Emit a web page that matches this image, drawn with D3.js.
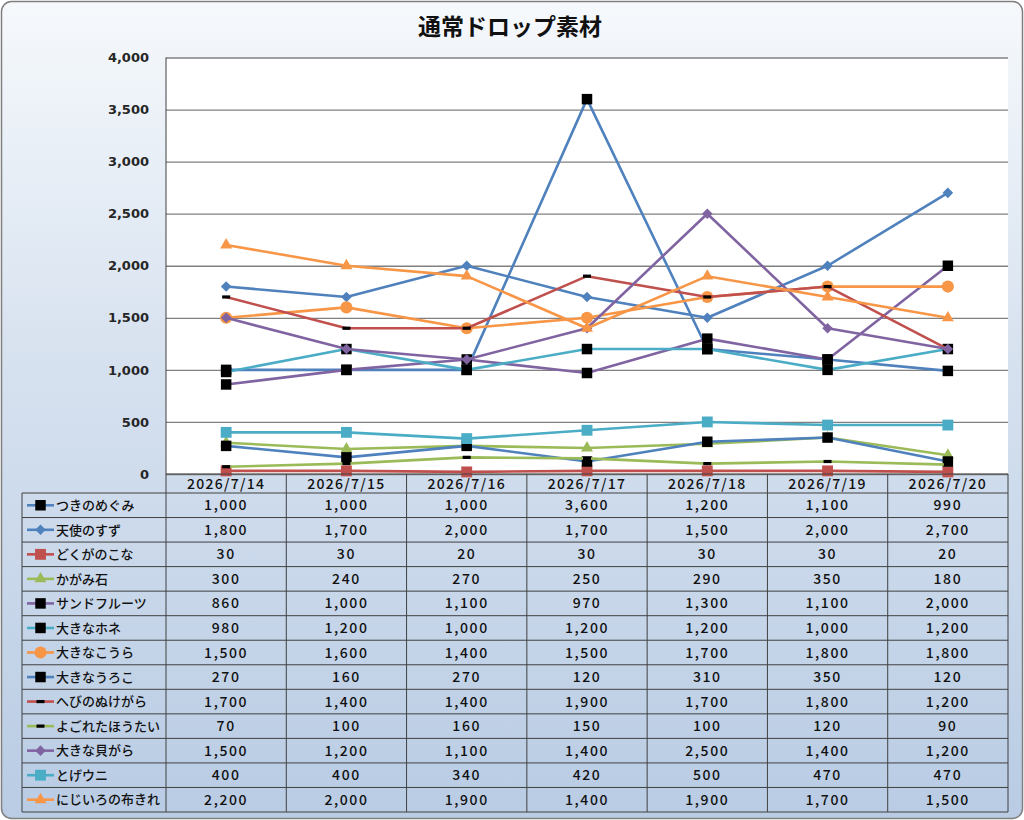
<!DOCTYPE html>
<html>
<head>
<meta charset="utf-8">
<script src="https://cdn.jsdelivr.net/npm/d3@7"></script>
<style>
  body { margin: 0; background: #ffffff; }
  svg text { font-family: "Noto Sans CJK JP", "Noto Sans", sans-serif; }
</style>
</head>
<body>
<div id="mainDiv"></div>
<script>
'use strict';

// ---- data ----
var dates = ['2026/7/14', '2026/7/15', '2026/7/16', '2026/7/17', '2026/7/18', '2026/7/19', '2026/7/20'];

var seriesNames = ['つきのめぐみ', '天使のすず', 'どくがのこな', 'かがみ石', 'サンドフルーツ', '大きなホネ',
                   '大きなこうら', '大きなうろこ', 'へびのぬけがら', 'よごれたほうたい', '大きな貝がら',
                   'とげウニ', 'にじいろの布きれ'];

var tsukiNoMegumi  = [1000, 1000, 1000, 3600, 1200, 1100, 990];
var tenshiNoSuzu   = [1800, 1700, 2000, 1700, 1500, 2000, 2700];
var dokugaNoKona   = [30, 30, 20, 30, 30, 30, 20];
var kagamiIshi     = [300, 240, 270, 250, 290, 350, 180];
var sandFruits     = [860, 1000, 1100, 970, 1300, 1100, 2000];
var ookinaHone     = [980, 1200, 1000, 1200, 1200, 1000, 1200];
var ookinaKoura    = [1500, 1600, 1400, 1500, 1700, 1800, 1800];
var ookinaUroko    = [270, 160, 270, 120, 310, 350, 120];
var hebiNoNukegara = [1700, 1400, 1400, 1900, 1700, 1800, 1200];
var yogoretaHoutai = [70, 100, 160, 150, 100, 120, 90];
var ookinaKaigara  = [1500, 1200, 1100, 1400, 2500, 1400, 1200];
var togeUni        = [400, 400, 340, 420, 500, 470, 470];
var nijiiroNuno    = [2200, 2000, 1900, 1400, 1900, 1700, 1500];

var yTicks = [0, 500, 1000, 1500, 2000, 2500, 3000, 3500, 4000];

var seriesValues = [tsukiNoMegumi, tenshiNoSuzu, dokugaNoKona, kagamiIshi, sandFruits, ookinaHone,
                    ookinaKoura, ookinaUroko, hebiNoNukegara, yogoretaHoutai, ookinaKaigara,
                    togeUni, nijiiroNuno];

// ---- styles ----
var blue = '#4f81bd', red = '#c0504d', green = '#9bbb59', purple = '#8064a2', cyan = '#4bacc6', orange = '#f79646';

var lineColors   = [blue, blue, red, green, purple, cyan, orange, blue, red, green, purple, cyan, orange];
var markerShapes = ['square', 'diamond', 'square', 'triangle', 'square', 'square', 'circle', 'square',
                    'dash', 'dash', 'diamond', 'square', 'triangle'];
var markerFills  = ['#000', blue, red, green, '#000', '#000', orange, '#000', '#000', '#000', purple, cyan, orange];

var chart = {};
chart.width = 1024;
chart.height = 820;
chart.plot = {left: 166, right: 1008, top: 57.5, bottom: 474};
chart.table = {left: 22, headerBottom: 493, bottom: 812};

chart.xScale = d3.scaleBand().domain(dates).range([chart.plot.left, chart.plot.right]);
chart.yScale = d3.scaleLinear().domain([0, 4000]).range([chart.plot.bottom, chart.plot.top]);
chart.rowScale = d3.scaleBand().domain(seriesNames).range([chart.table.headerBottom, chart.table.bottom]);

chart.drawMarker = function(g, shape, fill, cx, cy) {
    if (shape === 'dash') {
        g.append('rect').attr('x', cx - 4).attr('y', cy - 1.6).attr('width', 8).attr('height', 3.2).attr('fill', fill);
        return;
    }
    var type = {square: d3.symbolSquare, diamond: d3.symbolSquare, triangle: d3.symbolTriangle, circle: d3.symbolCircle}[shape];
    var size = {square: 110, diamond: 56, triangle: 62, circle: 115}[shape];
    if (fill !== '#000' && shape === 'square') size = 118;
    g.append('path')
        .attr('d', d3.symbol().type(type).size(size)())
        .attr('transform', 'translate(' + cx + ',' + cy + ')' + (shape === 'diamond' ? ' rotate(45)' : ''))
        .attr('fill', fill);
};

chart.start = function() {
    var svg = d3.select('#mainDiv').append('svg')
        .attr('width', chart.width).attr('height', chart.height);

    var defs = svg.append('defs');
    var grad = defs.append('linearGradient').attr('id', 'bg').attr('x1', 0).attr('y1', 0).attr('x2', 0).attr('y2', 1);
    grad.append('stop').attr('offset', '0%').attr('stop-color', '#f6f9fc');
    grad.append('stop').attr('offset', '45%').attr('stop-color', '#d6e1ef');
    grad.append('stop').attr('offset', '100%').attr('stop-color', '#b9cce4');

    // frame
    svg.append('rect').attr('x', 1.5).attr('y', 1.5).attr('width', chart.width - 3).attr('height', chart.height - 3)
        .attr('rx', 10).attr('fill', 'url(#bg)').attr('stroke', '#7f7f7f').attr('stroke-width', 1.5);

    // title
    svg.append('text').attr('x', 510).attr('y', 35).attr('text-anchor', 'middle')
        .attr('font-size', 23).attr('font-weight', 'bold').attr('fill', '#111').text('通常ドロップ素材');

    // plot area
    var p = chart.plot;
    svg.append('rect').attr('x', p.left).attr('y', p.top).attr('width', p.right - p.left).attr('height', p.bottom - p.top)
        .attr('fill', '#fff');

    var yAxis = d3.axisLeft(chart.yScale).tickValues(yTicks).tickSize(-(p.right - p.left)).tickPadding(17)
        .tickFormat(d3.format(','));
    var yG = svg.append('g').attr('transform', 'translate(' + p.left + ',0)').call(yAxis);
    yG.select('.domain').remove();
    yG.selectAll('.tick line').attr('stroke', '#808080').attr('stroke-width', 1.3);
    yG.selectAll('.tick text').attr('font-size', 13).attr('font-weight', 'bold').attr('fill', '#262626')
        .style('font-family', '"DejaVu Sans", sans-serif');

    svg.append('line').attr('x1', p.left).attr('x2', p.left).attr('y1', p.top).attr('y2', chart.table.bottom)
        .attr('stroke', '#404040').attr('stroke-width', 1);

    // series
    var line = d3.line()
        .x(function(d, i) { return chart.xScale(dates[i]) + chart.xScale.bandwidth() / 2; })
        .y(function(d) { return chart.yScale(d); });

    var seriesG = svg.append('g');
    seriesValues.forEach(function(vals, s) {
        var g = seriesG.append('g');
        g.append('path').datum(vals).attr('d', line).attr('fill', 'none')
            .attr('stroke', lineColors[s]).attr('stroke-width', 2.6).attr('stroke-linejoin', 'round');
        vals.forEach(function(v, i) {
            chart.drawMarker(g, markerShapes[s], markerFills[s],
                chart.xScale(dates[i]) + chart.xScale.bandwidth() / 2, chart.yScale(v));
        });
    });

    // data table
    var t = chart.table;
    var tg = svg.append('g');
    var gridColor = '#404040';

    // header row
    dates.forEach(function(d) {
        tg.append('text').attr('x', chart.xScale(d) + chart.xScale.bandwidth() / 2).attr('y', p.bottom + 14.5)
            .attr('text-anchor', 'middle').attr('font-size', 14).attr('font-weight', 500).attr('fill', '#111')
            .attr('letter-spacing', 1.3).text(d);
    });

    // rows
    seriesNames.forEach(function(name, s) {
        var y0 = chart.rowScale(name), h = chart.rowScale.bandwidth(), cy = y0 + h / 2;
        var lg = tg.append('g');
        lg.append('line').attr('x1', 27).attr('x2', 54).attr('y1', cy).attr('y2', cy)
            .attr('stroke', lineColors[s]).attr('stroke-width', 2.6);
        chart.drawMarker(lg, markerShapes[s], markerFills[s], 40.5, cy);
        tg.append('text').attr('x', 56).attr('y', cy + 4.7).attr('font-size', 13).attr('font-weight', 500)
            .attr('fill', '#111').text(name);
        seriesValues[s].forEach(function(v, i) {
            tg.append('text').attr('x', chart.xScale(dates[i]) + chart.xScale.bandwidth() / 2).attr('y', cy + 5)
                .attr('text-anchor', 'middle').attr('font-size', 14).attr('font-weight', 500).attr('fill', '#111')
                .attr('letter-spacing', 1.6).text(d3.format(',')(v));
        });
    });

    // table grid lines
    seriesNames.forEach(function(name) {
        tg.append('line').attr('x1', t.left).attr('x2', p.right).attr('y1', chart.rowScale(name)).attr('y2', chart.rowScale(name))
            .attr('stroke', gridColor);
    });
    tg.append('line').attr('x1', t.left).attr('x2', p.right).attr('y1', t.bottom).attr('y2', t.bottom).attr('stroke', gridColor);
    tg.append('line').attr('x1', p.left).attr('x2', p.right).attr('y1', p.bottom).attr('y2', p.bottom).attr('stroke', gridColor);
    tg.append('line').attr('x1', t.left).attr('x2', t.left).attr('y1', t.headerBottom).attr('y2', t.bottom).attr('stroke', gridColor);
    dates.forEach(function(d) {
        var x = chart.xScale(d) + chart.xScale.bandwidth();
        tg.append('line').attr('x1', x).attr('x2', x).attr('y1', p.bottom).attr('y2', t.bottom).attr('stroke', gridColor);
    });
};

window.onload = chart.start;
</script>
</body>
</html>
